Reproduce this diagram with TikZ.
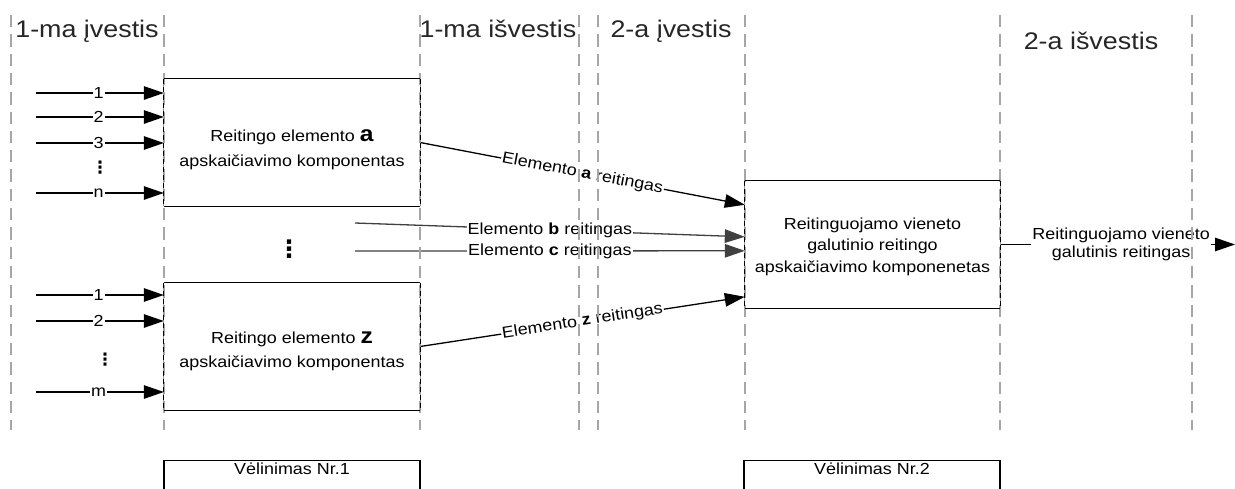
\documentclass[tikz,border=0pt]{standalone}
\usepackage{fontspec}
\setmainfont{Liberation Sans}[FakeStretch=1.12]
\newfontfamily\symfont{DejaVu Sans}
\usetikzlibrary{arrows.meta,calc}

\tikzset{
  compbox/.style={minimum width=256pt, minimum height=127pt, inner sep=0pt, draw=none},
  boxtext/.style={align=center, inner sep=0pt, font=\fontsize{16}{21.5}\selectfont},
  delaybox/.style={draw=black, line width=1.3pt, minimum width=256pt, minimum height=32pt, inner sep=0pt},
  plain16/.style={inner sep=0pt, font=\fontsize{16}{16}\selectfont},
  head/.style={anchor=base, inner sep=0pt, font=\fontsize{24}{24}\selectfont, text=black!85},
  topln/.style={line width=1.3pt, draw=black},
  sideln/.style={line width=1.3pt, draw=black!40, postaction={draw=black, dash pattern=on 5pt off 3pt}},
  divider/.style={line width=1.3pt, draw=black!35, dash pattern=on 12.3pt off 7pt},
  feed/.style={line width=1.3pt, draw=black, -{Triangle[length=20pt,width=13.5pt]}},
  feedgray/.style={feed, draw=black!75},
  tag/.style={fill=white, inner sep=1pt, font=\fontsize{16}{16}\selectfont},
  flowlabel/.style={fill=white, inner sep=1pt, font=\fontsize{16}{18}\selectfont},
  dotsmall/.style={inner sep=0pt, font=\symfont\bfseries\fontsize{17}{17}\selectfont},
  dotbig/.style={inner sep=0pt, font=\symfont\bfseries\fontsize{24}{24}\selectfont},
}

\newcommand\boxedges[1]{%
  \draw[topln] (#1.north west) -- (#1.north east) (#1.south west) -- (#1.south east);
  \draw[sideln] (#1.north west) -- (#1.south west);
  \draw[sideln] (#1.north east) -- (#1.south east);}

\begin{document}
\begin{tikzpicture}[x=1pt, y=-1pt]
\useasboundingbox[fill=white] (0,0) rectangle (1235,488);

% column headings
\node[head] (h1) at (87,37) {1-ma įvestis};
\node[head] (h2) at (498,37) {1-ma išvestis};
\node[head] (h3) at (671,37) {2-a įvestis};
\node[head] (h4) at (1091,49) {2-a išvestis};

% components
\node[compbox] (a) at (292,142.5) {};
\node[compbox] (z) at (292,346.5) {};
\node[compbox, minimum width=255pt, minimum height=127pt] (fin) at (872.5,244.5) {};

\node[boxtext] (ta) at ($(a.center)+(0,7)$) {Reitingo elemento {\bfseries\fontsize{22}{22}\selectfont a}\\[3.5pt]apskaičiavimo komponentas};
\node[boxtext] (tz) at ($(z.center)+(0,5)$) {Reitingo elemento {\bfseries\fontsize{22}{22}\selectfont z}\\[2pt]apskaičiavimo komponentas};
\node[boxtext] (tf) at ($(fin.center)+(0,2)$) {Reitinguojamo vieneto\\galutinio reitingo\\apskaičiavimo komponenetas};

% delay blocks
\node[delaybox] (d1) at (292,476.5) {};
\node[delaybox] (d2) at (872,476.5) {};
\node[plain16, anchor=base] (d1t) at (292,474) {Vėlinimas Nr.1};
\node[plain16, anchor=base] (d2t) at (872,474) {Vėlinimas Nr.2};

% inputs of component a
\coordinate (ia1) at (36,93);
\coordinate (ia2) at (36,117);
\coordinate (ia3) at (36,143);
\coordinate (ian) at (36,193);
\draw[feed] (ia1) -- (ia1 -| a.west) node[tag, pos=0.49] {1};
\draw[feed] (ia2) -- (ia2 -| a.west) node[tag, pos=0.49] {2};
\draw[feed] (ia3) -- (ia3 -| a.west) node[tag, pos=0.49] {3};
\draw[feed] (ian) -- (ian -| a.west) node[tag, pos=0.49] {n};
\node[dotsmall] (va) at (100,168) {⋮};

% inputs of component z
\coordinate (iz1) at (36,295);
\coordinate (iz2) at (36,321);
\coordinate (izm) at (36,392);
\draw[feed] (iz1) -- (iz1 -| z.west) node[tag, pos=0.49] {1};
\draw[feed] (iz2) -- (iz2 -| z.west) node[tag, pos=0.49] {2};
\draw[feed] (izm) -- (izm -| z.west) node[tag, pos=0.49] {m};
\node[dotsmall] (vz) at (105,360) {⋮};

% elements between a and z
\node[dotbig] (vm) at (289,249) {⋮};
\coordinate (sb) at (355,223);
\coordinate (sc) at (355,251);

% entry points on the final component
\path (fin.north west) ++(0,24) coordinate (fa);
\path (fin.north west) ++(0,56) coordinate (fb);
\path (fin.north west) ++(0,70) coordinate (fc);
\path (fin.north west) ++(0,116) coordinate (fz);

\draw[feed] (a.east) -- (fa) node[flowlabel, sloped, pos=0.5] {Elemento \textbf{a} reitingas};
\draw[feedgray] (sb) -- (fb) node[flowlabel, pos=0.5] {Elemento \textbf{b} reitingas};
\draw[feedgray] (sc) -- (fc) node[flowlabel, pos=0.5] {Elemento \textbf{c} reitingas};
\draw[feed] (z.east) -- (fz) node[flowlabel, sloped, pos=0.5] {Elemento \textbf{z} reitingas};

% final output
\coordinate (out) at (1235,244.5);
\draw[feed] (fin.east) -- (out) node[flowlabel, align=center, pos=0.515] {Reitinguojamo vieneto\\galutinis reitingas};

% column dividers
\foreach \x in {11,164,420,579,598,745,1000,1192}
  \draw[divider] (\x,15) -- (\x,430);

% component frames
\boxedges{a}
\boxedges{z}
\boxedges{fin}
\end{tikzpicture}
\end{document}
